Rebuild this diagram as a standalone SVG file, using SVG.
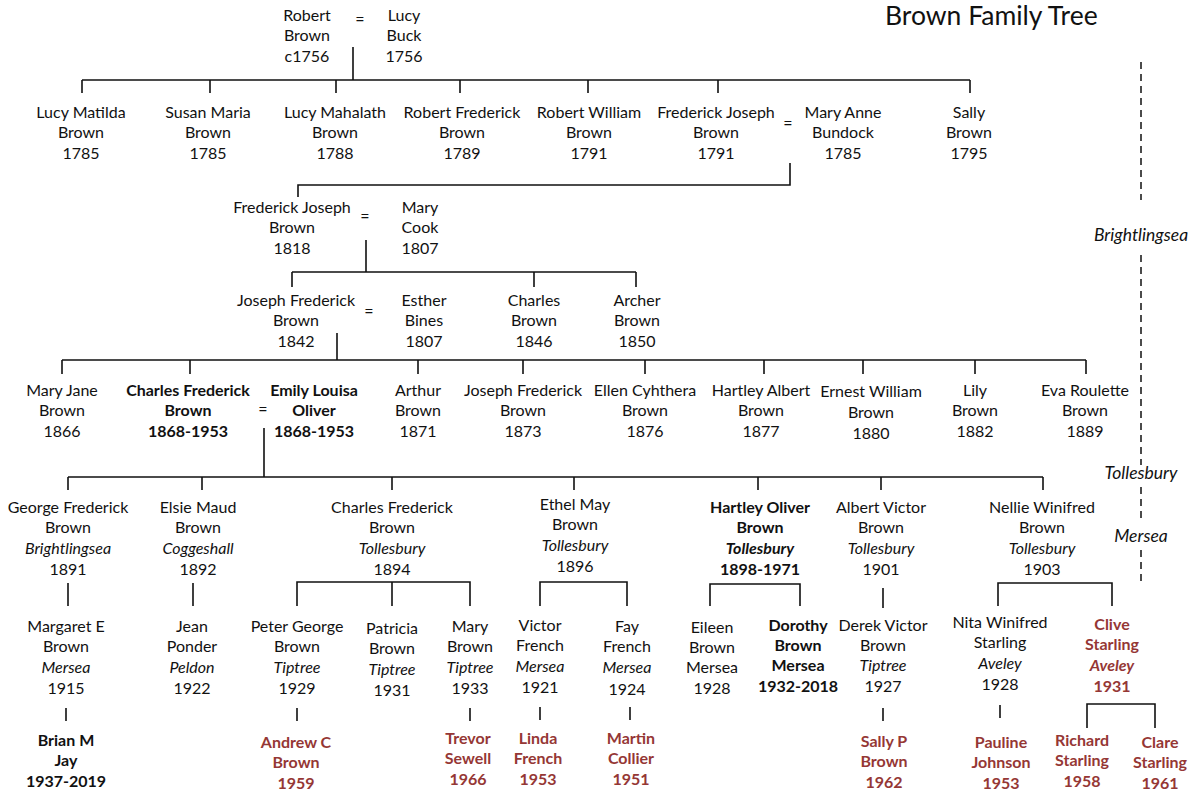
<svg xmlns="http://www.w3.org/2000/svg" width="1196" height="794" viewBox="0 0 1196 794">
<style>
text{font-family:Lato,"Liberation Sans",sans-serif;font-size:16px;fill:#111;text-anchor:middle}
.b{font-weight:bold}
.r{fill:#953735;font-weight:bold}
.i{font-style:italic}
.pl{font-style:italic;font-size:17.5px}
.title{font-size:26.5px;text-anchor:start}
.ln{fill:none;stroke:#111;stroke-width:1.6}
.dash{fill:none;stroke:#111;stroke-width:1.5;stroke-dasharray:7 5}
</style>
<rect width="1196" height="794" fill="#fff"/>
<text class="title" x="885" y="25">Brown Family Tree</text>

<g id="connectors">
<path class="ln" d="M353,47V80M82,80H970M82,80V93M210,80V93M336,80V93M460,80V93M588,80V93M718,80V93M970,80V93"/>
<path class="ln" d="M790,163V185H298V197"/>
<path class="ln" d="M366,240V272M292,272H636M292,272V287M534,272V287M636,272V287"/>
<path class="ln" d="M337,333V360M62,360H1086M62,360V374M190,360V374M418,360V374M523,360V374M645,360V374M764,360V374M863,360V374M975,360V374M1086,360V374"/>
<path class="ln" d="M264,428V477M68,477H1043M68,477V490M202,477V490M392,477V490M574,477V490M758,477V490M881,477V490M1043,477V490"/>
<path class="ln" d="M68,583V606M193,583V606M297,606V582H470V606M392,582V606M540,606V582H627V606M710,606V584H800V606M883,588V608M998,606V583H1112V606"/>
<path class="ln" d="M66,708V721M297,708V721M470,708V721M540,707V720M630,707V720M883,708V721M1000,705V718M1087,728V704H1155V728"/>
<path class="dash" d="M1141,62V200M1141,255V465M1141,487V520M1141,550V585"/>
</g>

<g id="places">
<text class="pl" x="1141" y="241">Brightlingsea</text>
<text class="pl" x="1141" y="479">Tollesbury</text>
<text class="pl" x="1141" y="542">Mersea</text>
</g>

<g id="robert"><text y="20.5"><tspan x="307">Robert</tspan><tspan x="307" dy="20.8">Brown</tspan><tspan x="307" dy="20.8">c1756</tspan></text></g>
<g id="eq0"><text x="360" y="25">=</text></g>
<g id="lucybuck"><text y="20.5"><tspan x="404">Lucy</tspan><tspan x="404" dy="20.8">Buck</tspan><tspan x="404" dy="20.8">1756</tspan></text></g>

<g id="lucymatilda"><text y="117.5"><tspan x="81">Lucy Matilda</tspan><tspan x="81" dy="20.8">Brown</tspan><tspan x="81" dy="20.8">1785</tspan></text></g>
<g id="susan"><text y="117.5"><tspan x="208">Susan Maria</tspan><tspan x="208" dy="20.8">Brown</tspan><tspan x="208" dy="20.8">1785</tspan></text></g>
<g id="lucymahalath"><text y="117.5"><tspan x="335">Lucy Mahalath</tspan><tspan x="335" dy="20.8">Brown</tspan><tspan x="335" dy="20.8">1788</tspan></text></g>
<g id="robertfrederick"><text y="117.5"><tspan x="462">Robert Frederick</tspan><tspan x="462" dy="20.8">Brown</tspan><tspan x="462" dy="20.8">1789</tspan></text></g>
<g id="robertwilliam"><text y="117.5"><tspan x="589">Robert William</tspan><tspan x="589" dy="20.8">Brown</tspan><tspan x="589" dy="20.8">1791</tspan></text></g>
<g id="fj1791"><text y="117.5"><tspan x="716">Frederick Joseph</tspan><tspan x="716" dy="20.8">Brown</tspan><tspan x="716" dy="20.8">1791</tspan></text></g>
<g id="eq1"><text x="788" y="129">=</text></g>
<g id="maryanne"><text y="117.5"><tspan x="843">Mary Anne</tspan><tspan x="843" dy="20.8">Bundock</tspan><tspan x="843" dy="20.8">1785</tspan></text></g>
<g id="sally"><text y="117.5"><tspan x="969">Sally</tspan><tspan x="969" dy="20.8">Brown</tspan><tspan x="969" dy="20.8">1795</tspan></text></g>

<g id="fj1818"><text y="212.5"><tspan x="292">Frederick Joseph</tspan><tspan x="292" dy="20.8">Brown</tspan><tspan x="292" dy="20.8">1818</tspan></text></g>
<g id="eq2"><text x="365" y="222">=</text></g>
<g id="marycook"><text y="212.5"><tspan x="420">Mary</tspan><tspan x="420" dy="20.8">Cook</tspan><tspan x="420" dy="20.8">1807</tspan></text></g>

<g id="jf1842"><text y="305.5"><tspan x="296">Joseph Frederick</tspan><tspan x="296" dy="20.8">Brown</tspan><tspan x="296" dy="20.8">1842</tspan></text></g>
<g id="eq3"><text x="369" y="317">=</text></g>
<g id="esther"><text y="305.5"><tspan x="424">Esther</tspan><tspan x="424" dy="20.8">Bines</tspan><tspan x="424" dy="20.8">1807</tspan></text></g>
<g id="charles1846"><text y="305.5"><tspan x="534">Charles</tspan><tspan x="534" dy="20.8">Brown</tspan><tspan x="534" dy="20.8">1846</tspan></text></g>
<g id="archer"><text y="305.5"><tspan x="637">Archer</tspan><tspan x="637" dy="20.8">Brown</tspan><tspan x="637" dy="20.8">1850</tspan></text></g>

<g id="maryjane"><text y="395.5"><tspan x="62">Mary Jane</tspan><tspan x="62" dy="20.8">Brown</tspan><tspan x="62" dy="20.8">1866</tspan></text></g>
<g id="cf1868"><text class="b" y="395.5"><tspan x="188">Charles Frederick</tspan><tspan x="188" dy="20.8">Brown</tspan><tspan x="188" dy="20.8">1868-1953</tspan></text></g>
<g id="eq4"><text x="263" y="415">=</text></g>
<g id="emily"><text class="b" y="395.5"><tspan x="314">Emily Louisa</tspan><tspan x="314" dy="20.8">Oliver</tspan><tspan x="314" dy="20.8">1868-1953</tspan></text></g>
<g id="arthur"><text y="395.5"><tspan x="418">Arthur</tspan><tspan x="418" dy="20.8">Brown</tspan><tspan x="418" dy="20.8">1871</tspan></text></g>
<g id="jf1873"><text y="395.5"><tspan x="523">Joseph Frederick</tspan><tspan x="523" dy="20.8">Brown</tspan><tspan x="523" dy="20.8">1873</tspan></text></g>
<g id="ellen"><text y="395.5"><tspan x="645">Ellen Cyhthera</tspan><tspan x="645" dy="20.8">Brown</tspan><tspan x="645" dy="20.8">1876</tspan></text></g>
<g id="hartleyalbert"><text y="395.5"><tspan x="761">Hartley Albert</tspan><tspan x="761" dy="20.8">Brown</tspan><tspan x="761" dy="20.8">1877</tspan></text></g>
<g id="ernest"><text y="396.5"><tspan x="871">Ernest William</tspan><tspan x="871" dy="21.2">Brown</tspan><tspan x="871" dy="21.2">1880</tspan></text></g>
<g id="lily"><text y="395.5"><tspan x="975">Lily</tspan><tspan x="975" dy="20.8">Brown</tspan><tspan x="975" dy="20.8">1882</tspan></text></g>
<g id="eva"><text y="395.5"><tspan x="1085">Eva Roulette</tspan><tspan x="1085" dy="20.8">Brown</tspan><tspan x="1085" dy="20.8">1889</tspan></text></g>

<g id="george"><text y="512.5"><tspan x="68">George Frederick</tspan><tspan x="68" dy="20.8">Brown</tspan><tspan x="68" dy="20.8" class="i">Brightlingsea</tspan><tspan x="68" dy="20.8">1891</tspan></text></g>
<g id="elsie"><text y="512.5"><tspan x="198">Elsie Maud</tspan><tspan x="198" dy="20.8">Brown</tspan><tspan x="198" dy="20.8" class="i">Coggeshall</tspan><tspan x="198" dy="20.8">1892</tspan></text></g>
<g id="cf1894"><text y="512.5"><tspan x="392">Charles Frederick</tspan><tspan x="392" dy="20.8">Brown</tspan><tspan x="392" dy="20.8" class="i">Tollesbury</tspan><tspan x="392" dy="20.8">1894</tspan></text></g>
<g id="ethel"><text y="509.5"><tspan x="575">Ethel May</tspan><tspan x="575" dy="20.8">Brown</tspan><tspan x="575" dy="20.8" class="i">Tollesbury</tspan><tspan x="575" dy="20.8">1896</tspan></text></g>
<g id="hartleyoliver"><text class="b" y="512.5"><tspan x="760">Hartley Oliver</tspan><tspan x="760" dy="20.8">Brown</tspan><tspan x="760" dy="20.8" class="i">Tollesbury</tspan><tspan x="760" dy="20.8">1898-1971</tspan></text></g>
<g id="albertvictor"><text y="512.5"><tspan x="881">Albert Victor</tspan><tspan x="881" dy="20.8">Brown</tspan><tspan x="881" dy="20.8" class="i">Tollesbury</tspan><tspan x="881" dy="20.8">1901</tspan></text></g>
<g id="nellie"><text y="512.5"><tspan x="1042">Nellie Winifred</tspan><tspan x="1042" dy="20.8">Brown</tspan><tspan x="1042" dy="20.8" class="i">Tollesbury</tspan><tspan x="1042" dy="20.8">1903</tspan></text></g>

<g id="margaret"><text y="631.5"><tspan x="66">Margaret E</tspan><tspan x="66" dy="20.8">Brown</tspan><tspan x="66" dy="20.8" class="i">Mersea</tspan><tspan x="66" dy="20.8">1915</tspan></text></g>
<g id="jean"><text y="631.5"><tspan x="192">Jean</tspan><tspan x="192" dy="20.8">Ponder</tspan><tspan x="192" dy="20.8" class="i">Peldon</tspan><tspan x="192" dy="20.8">1922</tspan></text></g>
<g id="peter"><text y="631.5"><tspan x="297">Peter George</tspan><tspan x="297" dy="20.8">Brown</tspan><tspan x="297" dy="20.8" class="i">Tiptree</tspan><tspan x="297" dy="20.8">1929</tspan></text></g>
<g id="patricia"><text y="633.5"><tspan x="392">Patricia</tspan><tspan x="392" dy="20.8">Brown</tspan><tspan x="392" dy="20.8" class="i">Tiptree</tspan><tspan x="392" dy="20.8">1931</tspan></text></g>
<g id="mary1933"><text y="631.5"><tspan x="470">Mary</tspan><tspan x="470" dy="20.8">Brown</tspan><tspan x="470" dy="20.8" class="i">Tiptree</tspan><tspan x="470" dy="20.8">1933</tspan></text></g>
<g id="victor"><text y="630.5"><tspan x="540">Victor</tspan><tspan x="540" dy="20.8">French</tspan><tspan x="540" dy="20.8" class="i">Mersea</tspan><tspan x="540" dy="20.8">1921</tspan></text></g>
<g id="fay"><text y="631.5"><tspan x="627">Fay</tspan><tspan x="627" dy="20.8">French</tspan><tspan x="627" dy="20.8" class="i">Mersea</tspan><tspan x="627" dy="21.5">1924</tspan></text></g>
<g id="eileen"><text y="632.5"><tspan x="712">Eileen</tspan><tspan x="712" dy="20">Brown</tspan><tspan x="712" dy="20">Mersea</tspan><tspan x="712" dy="21">1928</tspan></text></g>
<g id="dorothy"><text class="b" y="630.5"><tspan x="798">Dorothy</tspan><tspan x="798" dy="20">Brown</tspan><tspan x="798" dy="20">Mersea</tspan><tspan x="798" dy="21">1932-2018</tspan></text></g>
<g id="derek"><text y="630.5"><tspan x="883">Derek Victor</tspan><tspan x="883" dy="20.4">Brown</tspan><tspan x="883" dy="20.4" class="i">Tiptree</tspan><tspan x="883" dy="20.4">1927</tspan></text></g>
<g id="nita"><text y="627.5"><tspan x="1000">Nita Winifred</tspan><tspan x="1000" dy="20.8">Starling</tspan><tspan x="1000" dy="20.8" class="i">Aveley</tspan><tspan x="1000" dy="20.8">1928</tspan></text></g>
<g id="clive"><text class="r" y="629.5"><tspan x="1112">Clive</tspan><tspan x="1112" dy="20.8">Starling</tspan><tspan x="1112" dy="20.8" class="i">Aveley</tspan><tspan x="1112" dy="20.8">1931</tspan></text></g>

<g id="brian"><text class="b" y="745.5"><tspan x="66">Brian M</tspan><tspan x="66" dy="20.8">Jay</tspan><tspan x="66" dy="20.8">1937-2019</tspan></text></g>
<g id="andrew"><text class="r" y="747.5"><tspan x="296">Andrew C</tspan><tspan x="296" dy="20.8">Brown</tspan><tspan x="296" dy="20.8">1959</tspan></text></g>
<g id="trevor"><text class="r" y="743.5"><tspan x="468">Trevor</tspan><tspan x="468" dy="20.8">Sewell</tspan><tspan x="468" dy="20.8">1966</tspan></text></g>
<g id="linda"><text class="r" y="743.5"><tspan x="538">Linda</tspan><tspan x="538" dy="20.8">French</tspan><tspan x="538" dy="20.8">1953</tspan></text></g>
<g id="martin"><text class="r" y="743.5"><tspan x="631">Martin</tspan><tspan x="631" dy="20.8">Collier</tspan><tspan x="631" dy="20.8">1951</tspan></text></g>
<g id="sallyp"><text class="r" y="746.5"><tspan x="884">Sally P</tspan><tspan x="884" dy="20.8">Brown</tspan><tspan x="884" dy="20.8">1962</tspan></text></g>
<g id="pauline"><text class="r" y="747.5"><tspan x="1001">Pauline</tspan><tspan x="1001" dy="20.8">Johnson</tspan><tspan x="1001" dy="20.8">1953</tspan></text></g>
<g id="richard"><text class="r" y="745.5"><tspan x="1082">Richard</tspan><tspan x="1082" dy="20.8">Starling</tspan><tspan x="1082" dy="20.8">1958</tspan></text></g>
<g id="clare"><text class="r" y="747.5"><tspan x="1160">Clare</tspan><tspan x="1160" dy="20.8">Starling</tspan><tspan x="1160" dy="20.8">1961</tspan></text></g>
</svg>
